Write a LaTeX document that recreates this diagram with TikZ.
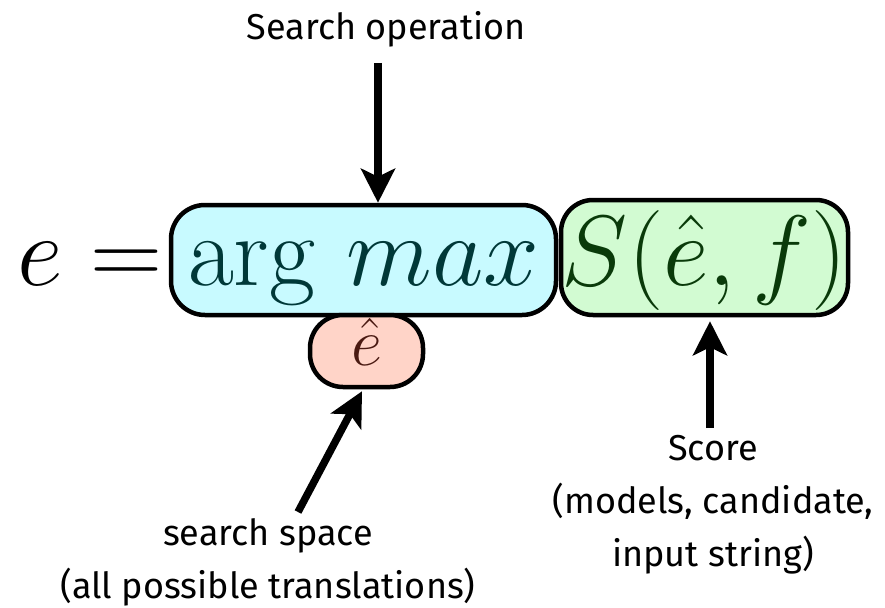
\RequirePackage{fix-cm}
\documentclass[tikz,border=0pt]{standalone}
\usepackage[no-math]{fontspec}
\newfontfamily\labelfont[RawFeature=-liga]{Fira Sans}
\usetikzlibrary{arrows.meta,calc}
\definecolor{bluefill}{HTML}{C8FAFF}
\definecolor{bluetext}{HTML}{003838}
\definecolor{greenfill}{HTML}{D2FBD2}
\definecolor{greentext}{HTML}{0A3A0A}
\definecolor{redfill}{HTML}{FFD4C8}
\definecolor{redtext}{HTML}{4A1A12}
\begin{document}
\begin{tikzpicture}[x=1pt,y=-1pt,
  box/.style={draw=black,line width=4.5pt,rounded corners=34pt,inner sep=0pt},
  arr/.style={line width=7.5pt,-{Stealth[length=34pt,width=34pt,inset=8pt]}},
  lbl/.style={font=\labelfont\fontsize{36}{53}\selectfont,align=center,inner sep=0pt},
  mathbig/.style={font=\fontsize{100}{100}\selectfont,inner sep=0pt}]
\useasboundingbox (0,0) rectangle (885,607);

\node[mathbig,anchor=base west] (lhs) at (17,285) {$e =$};
\node[box,mathbig,fill=bluefill,text=bluetext,minimum width=385pt,minimum height=110pt,
      text height=75pt,text depth=25pt] (blue) at (363.5,260) {$\mathrm{arg}\ max$};
\node[box,mathbig,fill=greenfill,text=greentext,rounded corners=32pt,minimum width=287pt,minimum height=115pt,
      text height=80pt,text depth=25pt] (green) at (704.5,257.5) {$S(\hat e, f)$};
\node[box,fill=redfill,text=redtext,rounded corners=33pt,minimum width=113pt,minimum height=72pt,
      font=\fontsize{68}{68}\selectfont,text height=48pt,text depth=20pt] (red) at (366.5,351) {$\hat e$};

\node[lbl,anchor=base] (op) at (386,40) {Search operation};
\node[lbl,anchor=north] (ss) at (268,518) {search space\\(all possible translations)};
\node[lbl,anchor=north] (score) at (713,435) {Score\\(models, candidate,\\input string)};

\coordinate (opA) at (378,63);
\coordinate (ssA) at (298,512);
\coordinate (scA) at (710,428);
\draw[arr] (opA) -- (opA |- blue.north);
\draw[arr] (ssA) -- ($(red.south)+(-4.5,2)$);
\draw[arr] (scA) -- ($(scA |- green.south)+(0,4)$);
\end{tikzpicture}
\end{document}
